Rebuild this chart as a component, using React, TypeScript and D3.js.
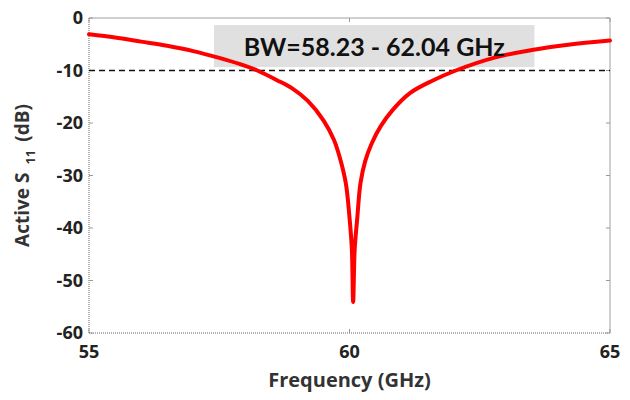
import React from 'react';
import * as d3 from 'd3';

// frequency (GHz) and active S11 (dB)
const freq = [
  55.0, 55.5, 56.0, 56.5, 57.0, 57.5, 57.9, 58.23, 58.6, 58.9, 59.2, 59.5, 59.7,
  59.82, 59.93, 60.0, 60.045, 60.07, 60.1, 60.15, 60.21, 60.3, 60.43, 60.6,
  60.83, 61.16, 61.6, 62.04, 62.8, 63.5, 64.2, 65.0,
];
const s11 = [
  -3.1, -3.7, -4.5, -5.3, -6.3, -7.6, -8.8, -10.0, -11.8, -13.4, -15.8, -19.5, -23.2,
  -26.8, -31.5, -38.0, -44.0, -54.1, -44.0, -38.0, -31.5, -27.3, -23.8, -20.6,
  -17.5, -14.3, -11.9, -10.0, -7.5, -6.1, -5.1, -4.3,
];

const xTicks = [55, 60, 65];
const yTicks = [0, -10, -20, -30, -40, -50, -60];
const threshold = -10;
const bwLabel = 'BW=58.23 - 62.04 GHz';

const W = 630;
const H = 400;
const margin = { top: 18, right: 20, bottom: 67, left: 89 };
const font = '"Open Sans", Lato, sans-serif';

const App = () => {
  const x = d3.scaleLinear().domain([55, 65]).range([margin.left, W - margin.right]);
  const y = d3.scaleLinear().domain([-60, 0]).range([H - margin.bottom, margin.top]);

  const pts: [number, number][] = freq.map((f, i) => [f, s11[i]]);
  const line = d3
    .line<[number, number]>()
    .x(d => x(d[0]))
    .y(d => y(d[1]))
    .curve(d3.curveCatmullRom.alpha(0.5));

  const x0 = x(55), x1 = x(65), y0 = y(-60), y1 = y(0);

  return (
    <svg
      width={W}
      height={H}
      style={{ position: 'absolute', left: 0, top: 0, background: '#fff' }}
      fontFamily={font}
    >
      {/* bandwidth box */}
      <rect x={x(57.4)} y={y(-1.35)} width={x(63.55) - x(57.4)} height={y(-9.35) - y(-1.35)} fill="#e0e0e0" />

      {/* frame */}
      <line x1={x0} y1={y1} x2={x1} y2={y1} stroke="#a0a0a0" strokeWidth={1} />
      <line x1={x1} y1={y1} x2={x1} y2={y0} stroke="#a0a0a0" strokeWidth={1} />
      <line x1={x0} y1={y1} x2={x0} y2={y0} stroke="#666" strokeWidth={1} strokeDasharray="1,1" />
      <line x1={x0} y1={y0} x2={x1} y2={y0} stroke="#666" strokeWidth={1} strokeDasharray="1,1" />

      {/* ticks */}
      {yTicks.map(t => (
        <g key={'yt' + t}>
          <line x1={x0} x2={x0 + 4} y1={y(t)} y2={y(t)} stroke="#999" />
          <line x1={x1} x2={x1 - 4} y1={y(t)} y2={y(t)} stroke="#999" />
          <text
            x={x0 - 6}
            y={y(t)}
            dy="0.36em"
            textAnchor="end"
            fontSize={18}
            fontWeight={700}
            fill="#222"
          >
            {t}
          </text>
        </g>
      ))}
      {xTicks.map(t => (
        <g key={'xt' + t}>
          <line x1={x(t)} x2={x(t)} y1={y0} y2={y0 - 4} stroke="#999" />
          <line x1={x(t)} x2={x(t)} y1={y1} y2={y1 + 4} stroke="#999" />
          <text x={x(t)} y={358} textAnchor="middle" fontSize={18} fontWeight={700} fill="#222">
            {t}
          </text>
        </g>
      ))}

      {/* -10 dB line */}
      <line
        x1={x0}
        x2={x1}
        y1={y(threshold)}
        y2={y(threshold)}
        stroke="#111"
        strokeWidth={1.5}
        strokeDasharray="6,4"
      />

      {/* curve */}
      <path d={line(pts) || ''} fill="none" stroke="#ff0000" strokeWidth={4} strokeLinejoin="round" strokeLinecap="round" />

      <text
        x={(x(57.4) + x(63.55)) / 2}
        y={56}
        textAnchor="middle"
        fontSize={25}
        fontWeight={700}
        fill="#111"
        fontFamily='Lato, "Open Sans", sans-serif'
      >
        {bwLabel}
      </text>

      {/* axis titles */}
      <text x={(x0 + x1) / 2} y={387} textAnchor="middle" fontSize={20} fontWeight={700} fill="#333">
        Frequency (GHz)
      </text>
      <text
        transform={`translate(29,${(y0 + y1) / 2}) rotate(-90)`}
        textAnchor="middle"
        fontSize={19}
        fontWeight={700}
        fill="#333"
      >
        Active S
        <tspan dx={8} dy={6} fontSize={13}>11</tspan>
        <tspan dx={8} dy={-6}>(dB)</tspan>
      </text>
    </svg>
  );
};

export default App;
